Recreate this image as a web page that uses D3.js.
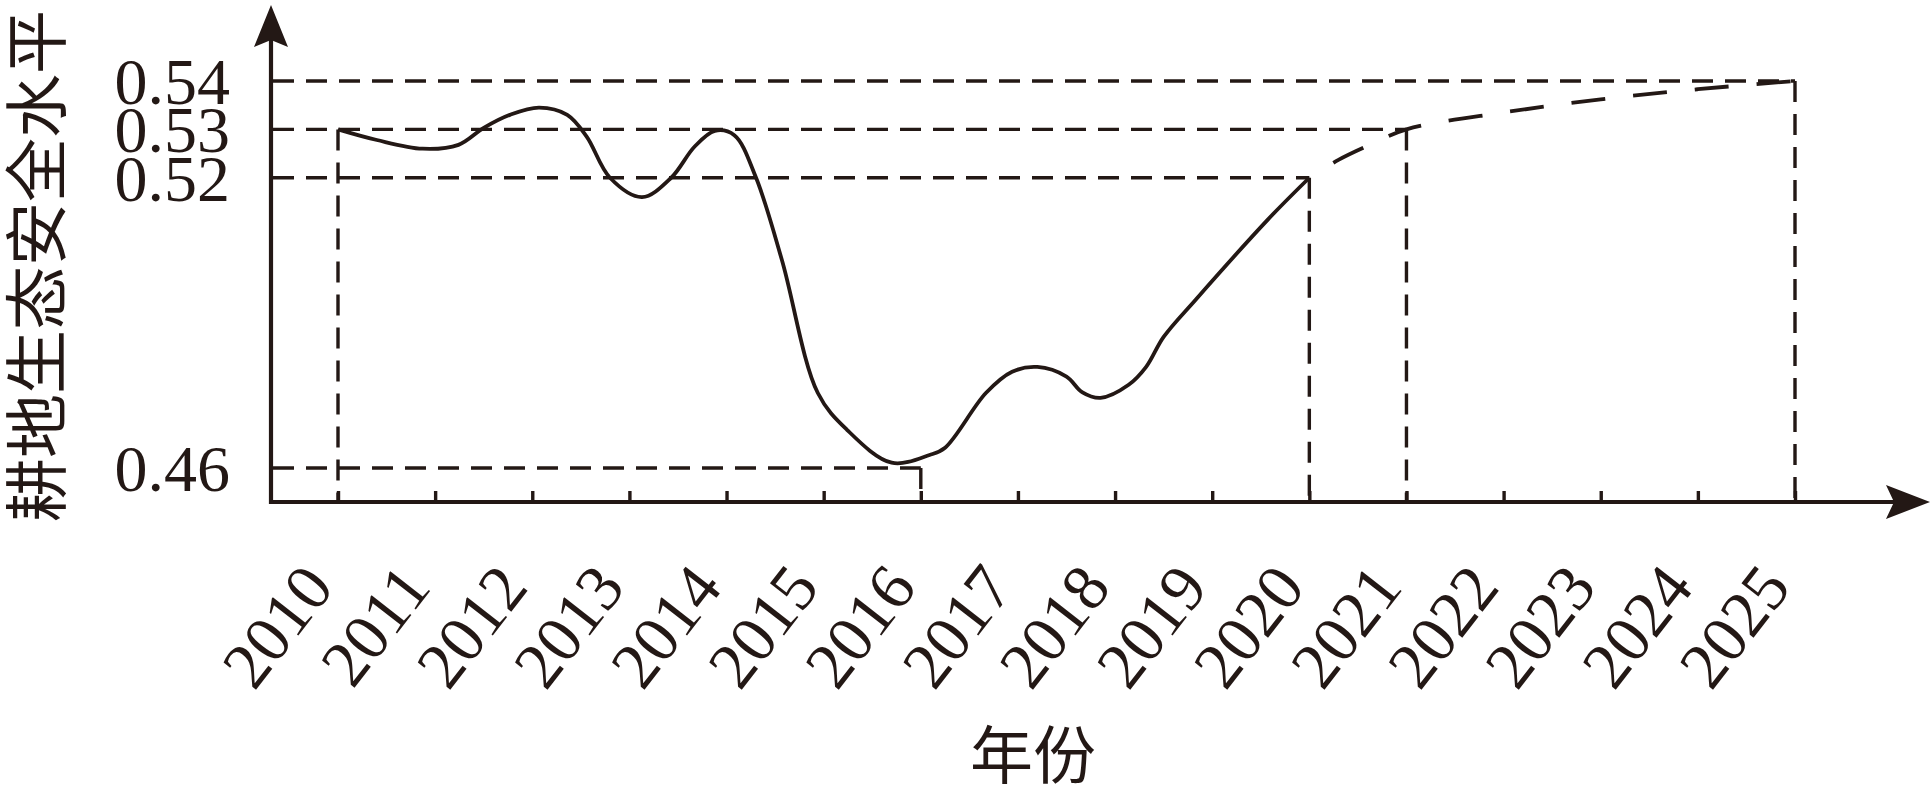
<!DOCTYPE html>
<html>
<head>
<meta charset="utf-8">
<script src="https://cdn.jsdelivr.net/npm/d3@7/dist/d3.min.js"></script>
<style>
  html, body { margin: 0; padding: 0; background: #fff; }
  svg { display: block; }
</style>
</head>
<body>
<div id="chart"></div>
<script>
// 年份刻度
const years = d3.range(2010, 2026);
const yTicks = [0.46, 0.52, 0.53, 0.54];

// 实测曲线（从图上读取的点）
const actualYears = [2010.0, 2010.4, 2010.87, 2011.24, 2011.5, 2011.77, 2012.07, 2012.36, 2012.56,
  2012.8, 2013.13, 2013.43, 2013.67, 2013.88, 2014.08, 2014.3, 2014.57, 2014.94, 2015.24,
  2015.7, 2016.09, 2016.25, 2016.67, 2016.94, 2017.2, 2017.5, 2017.66, 2017.85, 2018.14,
  2018.32, 2018.5, 2018.83, 2019.58, 2020.0];
const actualValues = [0.530, 0.5278, 0.526, 0.5268, 0.5303, 0.533, 0.5345, 0.533, 0.5285,
  0.520, 0.516, 0.520, 0.5264, 0.5297, 0.5288, 0.5202, 0.503, 0.4755, 0.4679,
  0.4611, 0.4627, 0.4642, 0.4755, 0.4799, 0.4809, 0.4789, 0.4757, 0.4745, 0.4772,
  0.4809, 0.4871, 0.4948, 0.5115, 0.520];

// 预测（虚线）
const forecastYears = [2020, 2020.3, 2020.6, 2021, 2022, 2023, 2024, 2025];
const forecastValues = [0.52, 0.5237, 0.5266, 0.53, 0.5335, 0.5362, 0.5383, 0.54];

// 辅助虚线
const guideYears = [2010, 2016, 2020, 2021, 2025];
const guideValues = [0.53, 0.46, 0.52, 0.53, 0.54];

const width = 1930;
const height = 792;
const ink = "#231815";
const axisX = 271;   // y 轴位置
const axisY = 502;   // x 轴位置

const svg = d3.select("#chart")
  .append("svg")
  .attr("width", width)
  .attr("height", height);

svg.append("rect").attr("width", width).attr("height", height).attr("fill", "#fff");

const x = d3.scaleLinear().domain([2010, 2025]).range([338, 1795]);
const y = d3.scaleLinear().domain([0.46, 0.54]).range([468, 81]);

// 辅助虚线
const guides = svg.append("g")
  .attr("stroke", ink)
  .attr("stroke-width", 3.4)
  .attr("stroke-dasharray", "21,12")
  .attr("fill", "none");

guideYears.forEach((yr, i) => {
  const v = guideValues[i];
  const longer = guideYears.some((o, j) => guideValues[j] === v && o > yr);
  if (!longer) {
    guides.append("line")
      .attr("x1", axisX + 2).attr("x2", x(yr))
      .attr("y1", y(v)).attr("y2", y(v));
  }
  guides.append("line")
    .attr("x1", x(yr)).attr("x2", x(yr))
    .attr("y1", y(v)).attr("y2", axisY);
});

// 曲线
const line = d3.line()
  .x(d => x(d[0]))
  .y(d => y(d[1]))
  .curve(d3.curveCatmullRom.alpha(0.5));

svg.append("path")
  .datum(d3.zip(actualYears, actualValues))
  .attr("d", line)
  .attr("fill", "none")
  .attr("stroke", ink)
  .attr("stroke-width", 3.8);

svg.append("path")
  .datum(d3.zip(forecastYears, forecastValues))
  .attr("d", line)
  .attr("fill", "none")
  .attr("stroke", ink)
  .attr("stroke-width", 3.8)
  .attr("stroke-dasharray", "34,28")
  .attr("stroke-dashoffset", 34);

// x 轴刻度和标签
const xAxis = svg.append("g")
  .attr("transform", `translate(0,${axisY})`)
  .call(d3.axisBottom(x)
    .tickValues(years)
    .tickFormat(d3.format("d"))
    .tickSizeInner(-11)
    .tickSizeOuter(0));
xAxis.select(".domain").remove();
xAxis.selectAll(".tick line").attr("stroke", ink).attr("stroke-width", 3.4);
xAxis.selectAll(".tick text")
  .attr("fill", ink)
  .attr("font-family", "'Liberation Serif', 'Times New Roman', serif")
  .attr("font-size", 66)
  .attr("text-anchor", "end")
  .attr("x", -3)
  .attr("y", 86)
  .attr("dy", 0)
  .attr("transform", "rotate(-52, -3, 86)");

// y 轴标签
const yAxis = svg.append("g")
  .attr("transform", `translate(${axisX},0)`)
  .call(d3.axisLeft(y)
    .tickValues(yTicks)
    .tickFormat(d3.format(".2f"))
    .tickSize(0)
    .tickPadding(41));
yAxis.select(".domain").remove();
yAxis.selectAll(".tick text")
  .attr("fill", ink)
  .attr("font-family", "'Liberation Serif', 'Times New Roman', serif")
  .attr("font-size", 66)
  .attr("dy", "0.34em");

// 坐标轴线和箭头
svg.append("line")
  .attr("x1", axisX).attr("x2", 1895)
  .attr("y1", axisY).attr("y2", axisY)
  .attr("stroke", ink).attr("stroke-width", 4.2);
svg.append("line")
  .attr("x1", axisX).attr("x2", axisX)
  .attr("y1", axisY + 2).attr("y2", 40)
  .attr("stroke", ink).attr("stroke-width", 4.2);

svg.append("path")
  .attr("d", `M1930,${axisY} L1886,${axisY - 17} L1894,${axisY} L1886,${axisY + 17} Z`)
  .attr("fill", ink);
svg.append("path")
  .attr("d", `M${axisX},5 L${axisX - 17},47 L${axisX},40 L${axisX + 17},47 Z`)
  .attr("fill", ink);

// 轴标题
svg.append("text")
  .attr("transform", "translate(38,266) rotate(-90)")
  .attr("text-anchor", "middle")
  .attr("dy", "0.35em")
  .attr("font-family", "'Noto Sans CJK SC', sans-serif")
  .attr("font-size", 64)
  .attr("fill", ink)
  .text("耕地生态安全水平");

svg.append("text")
  .attr("x", 1033)
  .attr("y", 756)
  .attr("text-anchor", "middle")
  .attr("dy", "0.35em")
  .attr("font-family", "'Noto Sans CJK SC', sans-serif")
  .attr("font-size", 63)
  .attr("fill", ink)
  .text("年份");
</script>
</body>
</html>
